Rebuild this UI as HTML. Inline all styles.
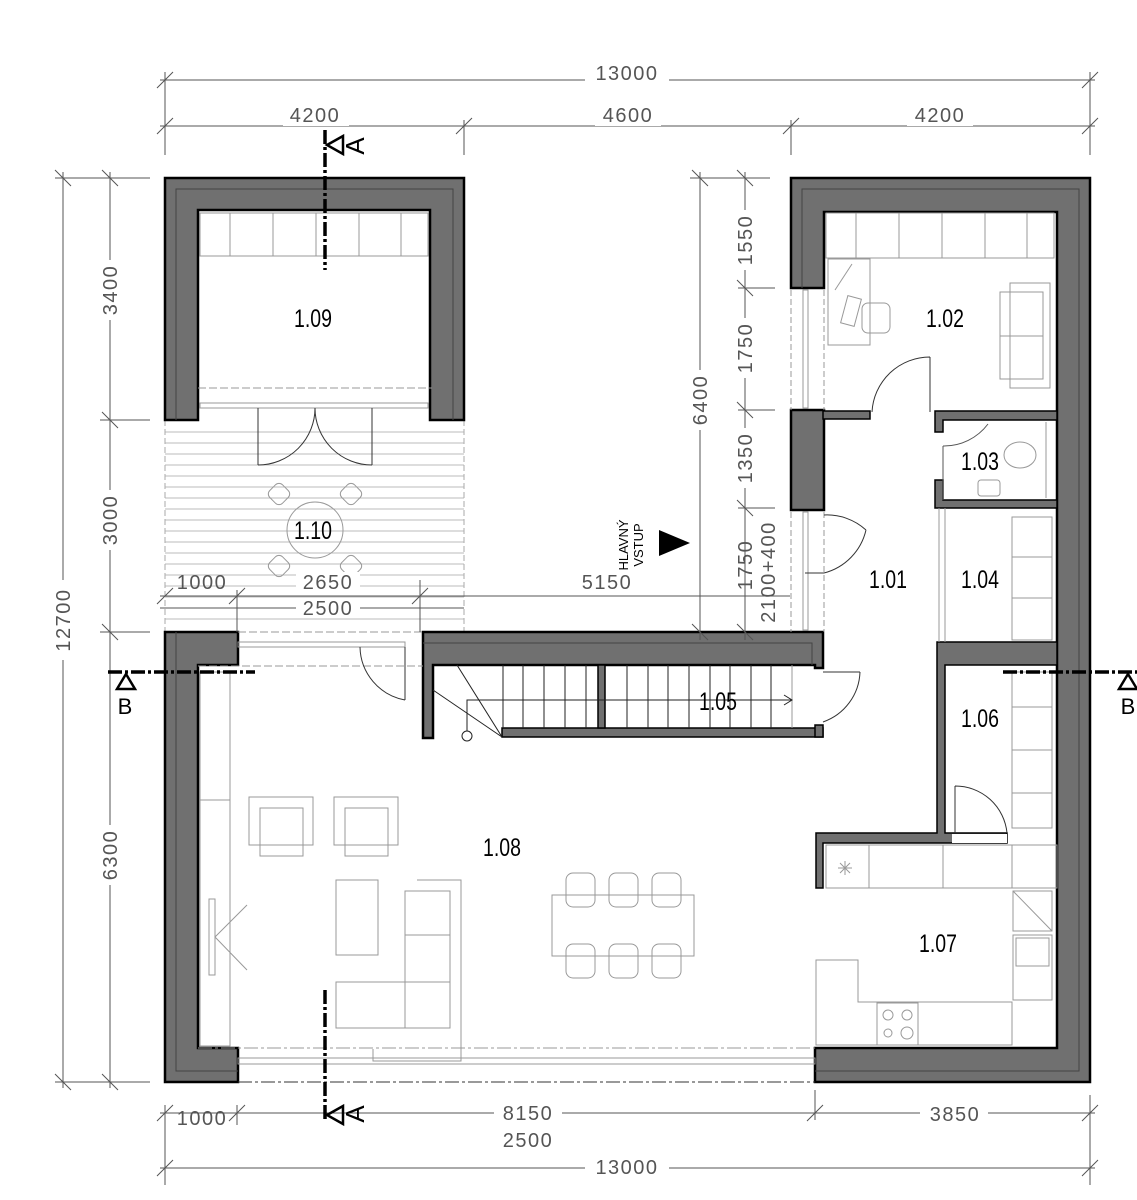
<!DOCTYPE html>
<html><head><meta charset="utf-8"><style>
html,body{margin:0;padding:0;background:#fff}
svg{display:block}
.w{fill:#707070;stroke:#000;stroke-width:2.5}
.f{fill:none;stroke:#999;stroke-width:1}
.l{fill:none;stroke:#333;stroke-width:1}
.d{stroke:#555;stroke-width:1;fill:none}
.dt{font-family:"Liberation Sans",sans-serif;font-size:20px;fill:#555;letter-spacing:1.5px}
.rt{font-family:"Liberation Sans",sans-serif;font-size:25px;fill:#000}
.sec{stroke:#000;stroke-width:3.5;stroke-dasharray:14 3 3 3;fill:none}
</style></head><body>
<svg width="1137" height="1200" viewBox="0 0 1137 1200" xmlns="http://www.w3.org/2000/svg">
<g stroke="#bbb" stroke-width="1">
<line x1="165" y1="432" x2="464" y2="432"/><line x1="165" y1="443" x2="464" y2="443"/><line x1="165" y1="454" x2="464" y2="454"/><line x1="165" y1="465" x2="464" y2="465"/><line x1="165" y1="476" x2="464" y2="476"/><line x1="165" y1="487" x2="464" y2="487"/><line x1="165" y1="498" x2="464" y2="498"/><line x1="165" y1="509" x2="464" y2="509"/><line x1="165" y1="520" x2="464" y2="520"/><line x1="165" y1="531" x2="464" y2="531"/><line x1="165" y1="542" x2="464" y2="542"/><line x1="165" y1="553" x2="464" y2="553"/><line x1="165" y1="564" x2="464" y2="564"/><line x1="165" y1="575" x2="464" y2="575"/><line x1="165" y1="586" x2="464" y2="586"/><line x1="165" y1="597" x2="464" y2="597"/><line x1="165" y1="608" x2="464" y2="608"/><line x1="165" y1="619" x2="464" y2="619"/>
</g>
<line x1="165" y1="420" x2="165" y2="632" stroke="#aaa" stroke-dasharray="6 3"/>
<line x1="464" y1="420" x2="464" y2="632" stroke="#aaa" stroke-dasharray="6 3"/>

<path class="w" d="M165 178H464V420H430V210H198V420H165Z"/>
<path class="w" d="M791 178H1090V1082H815V1048H1057V212H824V288H791Z"/>
<rect class="w" x="791" y="410" width="33" height="100"/>
<path class="w" d="M165 632H238V665H198V1048H238V1082H165Z"/>
<path class="w" d="M423 632H823V668H815V665H433V738H423Z"/>
<rect class="w" x="502" y="728" width="321" height="9" style="stroke-width:1.5"/>
<rect class="w" x="598" y="665" width="7" height="63" style="stroke-width:1.5"/>
<rect class="w" x="815" y="725" width="8" height="12" style="stroke-width:1.5"/>
<g fill="none" stroke="#444" stroke-width="1">
<path d="M176 420V189H453V420"/><path d="M802 288V189H1079V1071H815"/><path d="M176 632V1071H238"/><path d="M423 643H812V665"/>
</g>
<rect class="w" x="823" y="411" width="47" height="8" style="stroke-width:1.5"/>
<path class="w" d="M935 411H1057V420H943V432H935Z" style="stroke-width:1.5"/>
<path class="w" d="M935 480H943V500H1057V508H935Z" style="stroke-width:1.5"/>
<path class="w" d="M937 642H1057V665H945V833H1007V843H823V888H816V833H937Z" style="stroke-width:1.5"/>
<rect x="952" y="834" width="55" height="9" fill="#fff"/>
<line x1="939" y1="508" x2="939" y2="642" class="f"/><line x1="945" y1="508" x2="945" y2="642" class="f"/>

<g class="f">
<rect x="200" y="403" width="228" height="5"/><line x1="198" y1="388" x2="432" y2="388" stroke-dasharray="8 3"/>
<rect x="238" y="642" width="167" height="5"/><line x1="238" y1="632" x2="423" y2="632" stroke-dasharray="8 3"/><line x1="198" y1="666" x2="423" y2="666" stroke-dasharray="8 3"/>
<rect x="238" y="1058" width="577" height="6"/><line x1="198" y1="1048" x2="815" y2="1048" stroke-dasharray="14 3 3 3"/><line x1="238" y1="1082" x2="815" y2="1082" stroke="#333" stroke-dasharray="14 3 3 3"/>
<rect x="803" y="290" width="5" height="118"/><line x1="791" y1="290" x2="791" y2="410" stroke-dasharray="6 3"/><line x1="824" y1="290" x2="824" y2="410" stroke-dasharray="6 3"/>
<rect x="803" y="512" width="5" height="118"/><line x1="791" y1="512" x2="791" y2="632" stroke-dasharray="6 3"/><line x1="824" y1="512" x2="824" y2="632" stroke-dasharray="6 3"/>
</g>

<g class="l">
<path d="M258 465V408M258 465A57 57 0 0 0 315 408M372 465V408M372 465A57 57 0 0 1 315 408"/>
<path d="M405 647V700M405 700A55 55 0 0 1 360 647" />
<path d="M930 412V357M930 357A58 58 0 0 0 872 412"/>
<path d="M943 500V446M943 446A55 55 0 0 0 988 424" stroke="#555"/>
<path d="M824 573H805M824 515A58 58 0 0 1 866 530M866 530A58 58 0 0 1 824 573"/>
<path d="M955 833V786M955 786A52 52 0 0 1 1007 833"/>
<path d="M823 672H860M860 672A55 55 0 0 1 823 722"/>
</g>

<g stroke="#222" stroke-width="1">
<line x1="503" y1="665" x2="503" y2="728"/><line x1="523" y1="665" x2="523" y2="728"/><line x1="544" y1="665" x2="544" y2="728"/><line x1="565" y1="665" x2="565" y2="728"/><line x1="586" y1="665" x2="586" y2="728"/>
<line x1="627" y1="665" x2="627" y2="728"/><line x1="648" y1="665" x2="648" y2="728"/><line x1="668" y1="665" x2="668" y2="728"/><line x1="689" y1="665" x2="689" y2="728"/><line x1="710" y1="665" x2="710" y2="728"/><line x1="730" y1="665" x2="730" y2="728"/><line x1="751" y1="665" x2="751" y2="728"/><line x1="771" y1="665" x2="771" y2="728"/><line x1="792" y1="665" x2="792" y2="728" stroke="#999"/>
<line x1="502" y1="737" x2="457" y2="665"/><line x1="502" y1="737" x2="433" y2="690"/>
<path d="M467 731V700H792M784 695L792 700L784 705" fill="none"/>
<circle cx="467" cy="736" r="5" fill="none"/>
</g>

<g class="f">
<rect x="200" y="213" width="228" height="43"/><line x1="230" y1="213" x2="230" y2="256"/><line x1="273" y1="213" x2="273" y2="256"/><line x1="316" y1="213" x2="316" y2="256"/><line x1="359" y1="213" x2="359" y2="256"/><line x1="401" y1="213" x2="401" y2="256"/>
<circle cx="315" cy="530" r="28"/>
<g transform="translate(315 530)"><rect x="-45" y="-45" width="18" height="18" rx="5" transform="rotate(45 -36 -36)"/><rect x="27" y="-45" width="18" height="18" rx="5" transform="rotate(45 36 -36)"/><rect x="-45" y="27" width="18" height="18" rx="5" transform="rotate(45 -36 36)"/><rect x="27" y="27" width="18" height="18" rx="5" transform="rotate(45 36 36)"/></g>
<rect x="826" y="213" width="228" height="45"/><line x1="856" y1="213" x2="856" y2="258"/><line x1="899" y1="213" x2="899" y2="258"/><line x1="942" y1="213" x2="942" y2="258"/><line x1="985" y1="213" x2="985" y2="258"/><line x1="1027" y1="213" x2="1027" y2="258"/>
<rect x="828" y="259" width="42" height="86"/><line x1="835" y1="290" x2="852" y2="264"/><rect x="844" y="297" width="14" height="28" transform="rotate(15 851 311)"/><rect x="862" y="303" width="28" height="30" rx="6"/>
<rect x="1010" y="283" width="40" height="105"/><rect x="1000" y="292" width="43" height="87"/><line x1="1000" y1="336" x2="1043" y2="336"/>
<ellipse cx="1020" cy="455" rx="16" ry="13"/><rect x="978" y="480" width="22" height="16" rx="3"/>
<line x1="1046" y1="422" x2="1046" y2="498"/>
<rect x="1012" y="517" width="40" height="123"/><line x1="1012" y1="557" x2="1052" y2="557"/><line x1="1012" y1="598" x2="1052" y2="598"/>
<rect x="1012" y="672" width="40" height="156"/><line x1="1012" y1="707" x2="1052" y2="707"/><line x1="1012" y1="750" x2="1052" y2="750"/><line x1="1012" y1="793" x2="1052" y2="793"/>
<rect x="826" y="845" width="231" height="43"/><line x1="869" y1="845" x2="869" y2="888"/><line x1="943" y1="845" x2="943" y2="888"/><line x1="1012" y1="845" x2="1012" y2="888"/>
<path d="M838 868H852M845 861V875M840 863L850 873M850 863L840 873"/>
<rect x="1013" y="891" width="39" height="40"/><line x1="1013" y1="891" x2="1052" y2="931"/>
<rect x="1013" y="935" width="39" height="65"/><rect x="1016" y="938" width="33" height="28"/>
<path d="M816 960H858V1002H1012V1045H816Z"/><rect x="877" y="1003" width="41" height="42"/><circle cx="888" cy="1015" r="5"/><circle cx="907" cy="1015" r="5"/><circle cx="888" cy="1033" r="4"/><circle cx="907" cy="1033" r="6"/>
<rect x="200" y="672" width="30" height="374"/><line x1="200" y1="800" x2="230" y2="800"/>
<rect x="209" y="899" width="6" height="76"/><path d="M247 905L215 937L247 970"/>
<rect x="249" y="797" width="64" height="48"/><rect x="260" y="808" width="43" height="48"/>
<rect x="334" y="797" width="64" height="48"/><rect x="345" y="808" width="43" height="48"/>
<rect x="336" y="880" width="42" height="75"/>
<path d="M417 880H461V1061H373V1049"/><rect x="405" y="891" width="45" height="44"/><rect x="405" y="935" width="45" height="47"/><rect x="405" y="982" width="45" height="46"/><rect x="336" y="982" width="69" height="46"/>
<rect x="552" y="895" width="142" height="61"/>
<rect x="566" y="873" width="29" height="34" rx="7"/><rect x="609" y="873" width="29" height="34" rx="7"/><rect x="652" y="873" width="29" height="34" rx="7"/>
<rect x="566" y="944" width="29" height="34" rx="7"/><rect x="609" y="944" width="29" height="34" rx="7"/><rect x="652" y="944" width="29" height="34" rx="7"/>
</g>

<g class="d">
<line x1="160" y1="80" x2="1095" y2="80"/><line x1="165" y1="72" x2="165" y2="155"/><line x1="1090" y1="72" x2="1090" y2="155"/>
<line x1="160" y1="126" x2="1095" y2="126"/><line x1="464" y1="120" x2="464" y2="155"/><line x1="791" y1="120" x2="791" y2="155"/>
<line x1="55" y1="178" x2="150" y2="178"/><line x1="55" y1="1082" x2="150" y2="1082"/><line x1="63" y1="172" x2="63" y2="1088"/>
<line x1="110" y1="172" x2="110" y2="1088"/><line x1="100" y1="420" x2="150" y2="420"/><line x1="100" y1="632" x2="150" y2="632"/>
<line x1="700" y1="172" x2="700" y2="640"/><line x1="690" y1="178" x2="770" y2="178"/>
<line x1="745" y1="172" x2="745" y2="640"/><line x1="738" y1="288" x2="775" y2="288"/><line x1="738" y1="410" x2="775" y2="410"/><line x1="738" y1="508" x2="775" y2="508"/>
<line x1="160" y1="596" x2="790" y2="596"/><line x1="237" y1="590" x2="237" y2="632"/><line x1="420" y1="580" x2="420" y2="632"/><line x1="160" y1="608" x2="464" y2="608"/>
<line x1="160" y1="1113" x2="1095" y2="1113"/><line x1="165" y1="1105" x2="165" y2="1185"/><line x1="237" y1="1105" x2="237" y2="1125"/><line x1="815" y1="1090" x2="815" y2="1120"/><line x1="1090" y1="1095" x2="1090" y2="1185"/>
<line x1="160" y1="1168" x2="1095" y2="1168"/>
<path d="M157 88L173 72M157 134L173 118M456 134L472 118M783 134L799 118M1082 134L1098 118M1082 88L1098 72M55 170L71 186M102 170L118 186M102 412L118 428M102 624L118 640M55 1074L71 1090M102 1074L118 1090M692 170L708 186M737 170L753 186M737 280L753 296M737 402L753 418M737 500L753 516M692 624L708 640M737 624L753 640M157 604L173 588M229 604L245 588M412 604L428 588M157 1121L173 1105M229 1121L245 1105M807 1121L823 1105M1082 1121L1098 1105M157 1176L173 1160M1082 1176L1098 1160"/>
</g>
<g class="dt" text-anchor="middle">
<rect x="585" y="62" width="84" height="22" fill="#fff"/><text x="627" y="80">13000</text>
<rect x="283" y="104" width="66" height="22" fill="#fff"/><text x="315" y="122">4200</text>
<rect x="595" y="104" width="66" height="22" fill="#fff"/><text x="628" y="122">4600</text>
<rect x="907" y="104" width="66" height="22" fill="#fff"/><text x="940" y="122">4200</text>
<rect x="50" y="580" width="24" height="80" fill="#fff"/><text transform="translate(70 620) rotate(-90)">12700</text>
<rect x="96" y="260" width="24" height="60" fill="#fff"/><text transform="translate(117 290) rotate(-90)">3400</text>
<rect x="96" y="490" width="24" height="60" fill="#fff"/><text transform="translate(117 520) rotate(-90)">3000</text>
<rect x="96" y="825" width="24" height="60" fill="#fff"/><text transform="translate(117 855) rotate(-90)">6300</text>
<rect x="687" y="370" width="24" height="60" fill="#fff"/><text transform="translate(707 400) rotate(-90)">6400</text>
<rect x="731" y="210" width="24" height="60" fill="#fff"/><text transform="translate(752 240) rotate(-90)">1550</text>
<rect x="731" y="318" width="24" height="60" fill="#fff"/><text transform="translate(752 348) rotate(-90)">1750</text>
<rect x="731" y="428" width="24" height="60" fill="#fff"/><text transform="translate(752 458) rotate(-90)">1350</text>
<text transform="translate(752 565) rotate(-90)">1750</text>
<text transform="translate(775 572) rotate(-90)">2100+400</text>
<text x="202" y="589">1000</text>
<rect x="296" y="572" width="64" height="20" fill="#fff"/><text x="328" y="589">2650</text>
<rect x="574" y="572" width="64" height="20" fill="#fff"/><text x="607" y="589">5150</text>
<rect x="296" y="598" width="64" height="20" fill="#fff"/><text x="328" y="615">2500</text>
<text x="202" y="1125">1000</text>
<rect x="494" y="1100" width="68" height="20" fill="#fff"/><text x="528" y="1120">8150</text>
<text x="528" y="1147">2500</text>
<rect x="920" y="1103" width="68" height="20" fill="#fff"/><text x="955" y="1121">3850</text>
<rect x="585" y="1155" width="84" height="22" fill="#fff"/><text x="627" y="1174">13000</text>
</g>

<g>
<line x1="325" y1="130" x2="325" y2="270" class="sec"/>
<line x1="325" y1="990" x2="325" y2="1122" class="sec"/>
<line x1="108" y1="672" x2="255" y2="672" class="sec"/>
<line x1="1003" y1="672" x2="1137" y2="672" class="sec"/>
<path d="M327 145L343 136V154Z M327 1115L343 1106V1124Z M126 674L117 689H135Z M1128 674L1119 689H1137Z" fill="none" stroke="#000" stroke-width="2.5"/>
<text transform="translate(364 146) rotate(-90)" font-family="Liberation Sans,sans-serif" font-size="26" text-anchor="middle">A</text>
<text transform="translate(364 1114) rotate(-90)" font-family="Liberation Sans,sans-serif" font-size="26" text-anchor="middle">A</text>
<text x="125" y="714" font-family="Liberation Sans,sans-serif" font-size="22" text-anchor="middle">B</text>
<text x="1128" y="714" font-family="Liberation Sans,sans-serif" font-size="22" text-anchor="middle">B</text>
</g>

<path d="M659 530L690 543L659 556Z" fill="#000"/>
<text transform="translate(628 545) rotate(-90)" font-family="Liberation Sans,sans-serif" font-size="13" text-anchor="middle">HLAVNÝ</text>
<text transform="translate(643 545) rotate(-90)" font-family="Liberation Sans,sans-serif" font-size="13" text-anchor="middle">VSTUP</text>

<g class="rt" text-anchor="middle">
<text transform="translate(313 327) scale(0.78 1)">1.09</text>
<text transform="translate(313 539) scale(0.78 1)">1.10</text>
<text transform="translate(945 327) scale(0.78 1)">1.02</text>
<text transform="translate(980 470) scale(0.78 1)">1.03</text>
<text transform="translate(888 588) scale(0.78 1)">1.01</text>
<text transform="translate(980 588) scale(0.78 1)">1.04</text>
<text transform="translate(718 710) scale(0.78 1)">1.05</text>
<text transform="translate(980 727) scale(0.78 1)">1.06</text>
<text transform="translate(502 856) scale(0.78 1)">1.08</text>
<text transform="translate(938 952) scale(0.78 1)">1.07</text>
</g>
</svg>
</body></html>
